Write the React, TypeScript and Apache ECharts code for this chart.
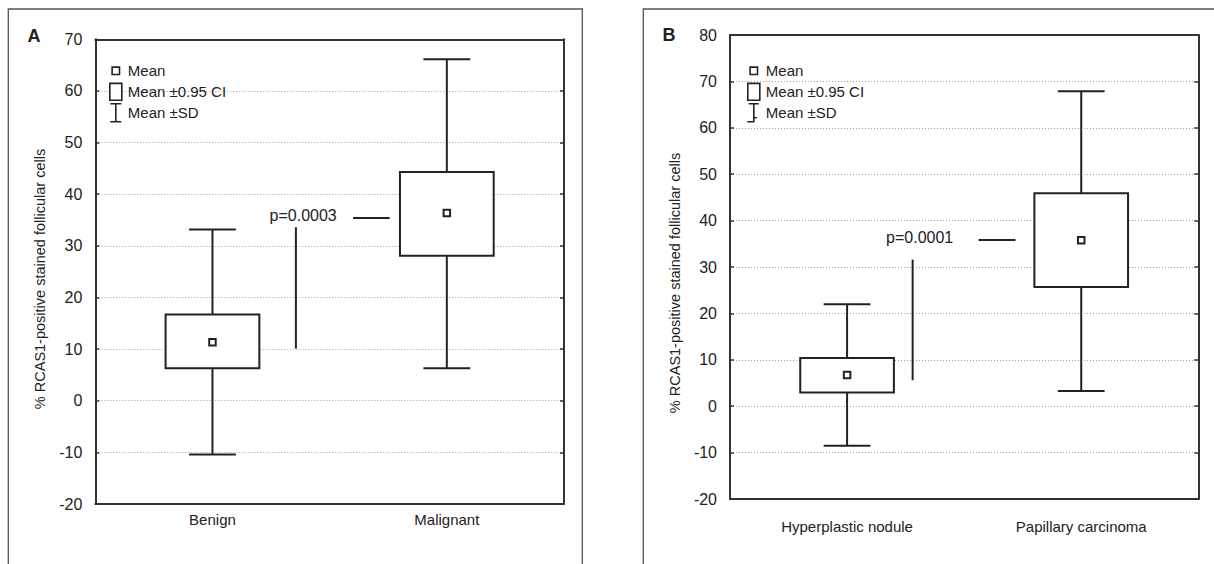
import React, { useEffect, useRef } from "react";
import * as echarts from "echarts";

// ---------- data ----------
const categoriesA = ["Benign", "Malignant"];
const meanA = [11.35, 36.35];
const ciLowA = [6.3, 28.1];
const ciHighA = [16.7, 44.3];
const sdLowA = [-10.4, 6.3];
const sdHighA = [33.15, 66.15];

const categoriesB = ["Hyperplastic nodule", "Papillary carcinoma"];
const meanB = [6.75, 35.75];
const ciLowB = [2.95, 25.7];
const ciHighB = [10.4, 45.9];
const sdLowB = [-8.5, 3.25];
const sdHighB = [21.95, 67.9];

const yRangeA = [-20, 70];
const yRangeB = [-20, 80];
const yStep = 10;

const panelLetters = ["A", "B"];
const yTitle = "% RCAS1-positive stained follicular cells";
const legendNames = ["Mean", "Mean \u00b10.95 CI", "Mean \u00b1SD"];

// p-value annotations, on a helper 0..2 axis (categories sit at 0.5 and 1.5)
const pLabelA = "p=0.0003";
const pTextA = [0.887, 35.9];
const pDashA = [[1.1, 35.4], [1.256, 35.4]];
const pStemA = [[0.856, 10.1], [0.856, 33.6]];
const pLabelB = "p=0.0001";
const pTextB = [0.81, 36.4];
const pDashB = [[1.062, 35.8], [1.219, 35.8]];
const pStemB = [[0.78, 5.6], [0.78, 31.6]];

const FONT = "'Liberation Sans', Arial, sans-serif";
const INK = "#222";

const iconMean = "path://M0,0 M14,20 M3.3,6.3 L10.7,6.3 L10.7,13.7 L3.3,13.7 Z";
const iconCI = "path://M0,0 M14,20 M1,1.6 L13,1.6 L13,18.4 L1,18.4 Z";
const iconSDA = "path://M0,0 M14,20 M1.5,1 L12.5,1 M7,1 L7,19 M1.5,19 L12.5,19";
const iconSDB = "path://M0,0 M14,20 M2,1 L12,1 M7,1 L7,15 L10,15 M7,15 L7,19 L0.5,19";

function panel(
  idx: number,
  grid: any,
  cats: string[],
  mean: number[],
  ciLow: number[],
  ciHigh: number[],
  sdLow: number[],
  sdHigh: number[],
  yRange: number[],
  labelMargin: number,
  pLabel: string,
  pText: number[],
  pDash: number[][],
  pStem: number[][]
) {
  const xb = idx * 3;
  const yl = idx * 2;
  const frameLine = { onZero: false, lineStyle: { color: "#333", width: 2 } };
  const xAxes = [
    {
      gridIndex: idx,
      type: "category",
      position: "bottom",
      data: cats,
      boundaryGap: true,
      axisLine: frameLine,
      axisTick: { inside: true, alignWithLabel: true, length: 3, lineStyle: { color: "#333", width: 1.5 } },
      axisLabel: { color: INK, fontSize: 15, fontFamily: FONT, margin: labelMargin },
      splitLine: { show: false },
    },
    {
      gridIndex: idx,
      type: "category",
      position: "top",
      data: cats,
      boundaryGap: true,
      axisLine: frameLine,
      axisTick: { inside: true, alignWithLabel: true, length: 3, lineStyle: { color: "#333", width: 1.5 } },
      axisLabel: { show: false },
      splitLine: { show: false },
    },
    { gridIndex: idx, type: "value", min: 0, max: 2, show: false, splitLine: { show: false } },
  ];
  const yAxes = [
    {
      gridIndex: idx,
      type: "value",
      position: "left",
      min: yRange[0],
      max: yRange[1],
      interval: yStep,
      axisLine: { show: true, onZero: false, lineStyle: { color: "#333", width: 2 } },
      axisTick: { show: true, inside: true, length: 4, lineStyle: { color: "#333", width: 1.5 } },
      axisLabel: { color: INK, fontSize: 16, fontFamily: FONT, margin: 13 },
      splitLine: { show: true, lineStyle: { color: "#a0a0a0", type: [1, 2], width: 1 } },
    },
    {
      gridIndex: idx,
      type: "value",
      position: "right",
      min: yRange[0],
      max: yRange[1],
      interval: yStep,
      axisLine: { show: true, onZero: false, lineStyle: { color: "#333", width: 2 } },
      axisTick: { show: true, inside: true, length: 4, lineStyle: { color: "#333", width: 1.5 } },
      axisLabel: { show: false },
      splitLine: { show: false },
    },
  ];
  const lineStyle = { stroke: INK, lineWidth: 2, fill: null };
  const series: any[] = [
    {
      name: legendNames[2],
      type: "custom",
      xAxisIndex: xb,
      yAxisIndex: yl,
      itemStyle: { color: "#fff", borderColor: INK },
      data: cats.map((_, i) => [i, sdLow[i], ciLow[i], ciHigh[i], sdHigh[i]]),
      renderItem: (_p: any, api: any) => {
        const c = api.value(0);
        const x = api.coord([c, 0])[0];
        const h = api.size([1, 0])[0] * 0.1;
        const yL = api.coord([c, api.value(1)])[1];
        const yCL = api.coord([c, api.value(2)])[1];
        const yCH = api.coord([c, api.value(3)])[1];
        const yH = api.coord([c, api.value(4)])[1];
        return {
          type: "group",
          children: [
            { type: "line", shape: { x1: x, y1: yH, x2: x, y2: yCH }, style: lineStyle },
            { type: "line", shape: { x1: x, y1: yCL, x2: x, y2: yL }, style: lineStyle },
            { type: "line", shape: { x1: x - h, y1: yH, x2: x + h, y2: yH }, style: lineStyle },
            { type: "line", shape: { x1: x - h, y1: yL, x2: x + h, y2: yL }, style: lineStyle },
          ],
        };
      },
    },
    {
      name: legendNames[1],
      type: "custom",
      xAxisIndex: xb,
      yAxisIndex: yl,
      itemStyle: { color: "#fff", borderColor: INK },
      data: cats.map((_, i) => [i, ciLow[i], ciHigh[i]]),
      renderItem: (_p: any, api: any) => {
        const c = api.value(0);
        const x = api.coord([c, 0])[0];
        const w = api.size([1, 0])[0] * 0.4;
        const yLo = api.coord([c, api.value(1)])[1];
        const yHi = api.coord([c, api.value(2)])[1];
        return {
          type: "rect",
          shape: { x: x - w / 2, y: yHi, width: w, height: yLo - yHi },
          style: { fill: "#fff", stroke: INK, lineWidth: 2 },
        };
      },
    },
    {
      name: legendNames[0],
      type: "scatter",
      xAxisIndex: xb,
      yAxisIndex: yl,
      symbol: "rect",
      symbolSize: 6.5,
      itemStyle: { color: "#fff", borderColor: INK, borderWidth: 2, opacity: 1 },
      data: cats.map((_, i) => [i, mean[i]]),
      silent: true,
    },
    {
      type: "line",
      xAxisIndex: xb + 2,
      yAxisIndex: yl,
      symbol: "none",
      silent: true,
      lineStyle: { color: INK, width: 2 },
      data: pDash,
    },
    {
      type: "line",
      xAxisIndex: xb + 2,
      yAxisIndex: yl,
      symbol: "none",
      silent: true,
      lineStyle: { color: INK, width: 2 },
      data: pStem,
    },
    {
      type: "custom",
      xAxisIndex: xb + 2,
      yAxisIndex: yl,
      silent: true,
      data: [pText],
      renderItem: (_p: any, api: any) => {
        const pt = api.coord([api.value(0), api.value(1)]);
        return {
          type: "text",
          x: pt[0],
          y: pt[1],
          style: {
            text: pLabel,
            fill: INK,
            fontSize: 16,
            fontFamily: FONT,
            align: "center",
            verticalAlign: "middle",
          },
        };
      },
    },
  ];
  return { grid, xAxes, yAxes, series };
}

function legendFor(left: number, sdIcon: string) {
  const icons = [iconMean, iconCI, sdIcon];
  return {
    orient: "vertical",
    left,
    top: 60,
    padding: 0,
    itemWidth: 14,
    itemHeight: 20,
    itemGap: -0.6,
    selectedMode: false,
    textStyle: { color: INK, fontSize: 15, fontFamily: FONT, lineHeight: 20, padding: [0, 0, 0, 0] },
    data: legendNames.map((n, i) => ({
      name: n,
      icon: icons[i],
      itemStyle: { color: "#fff", borderColor: INK, borderWidth: 1.6 },
    })),
  };
}

export default function App() {
  const ref = useRef<HTMLDivElement>(null);
  useEffect(() => {
    if (!ref.current) return;
    const chart = echarts.init(ref.current, undefined, { renderer: "svg" });
    const pA = panel(
      0,
      { left: 95.3, top: 39.3, width: 468.7, height: 464.7 },
      categoriesA, meanA, ciLowA, ciHighA, sdLowA, sdHighA, yRangeA, 8,
      pLabelA, pTextA, pDashA, pStemA
    );
    const pB = panel(
      1,
      { left: 730, top: 35, width: 468.3, height: 464 },
      categoriesB, meanB, ciLowB, ciHighB, sdLowB, sdHighB, yRangeB, 20,
      pLabelB, pTextB, pDashB, pStemB
    );
    chart.setOption({
      animation: false,
      backgroundColor: "#fff",
      textStyle: { fontFamily: FONT },
      grid: [pA.grid, pB.grid],
      xAxis: [...pA.xAxes, ...pB.xAxes],
      yAxis: [...pA.yAxes, ...pB.yAxes],
      legend: [legendFor(108, iconSDA), legendFor(746, iconSDB)],
      series: [...pA.series, ...pB.series],
      graphic: [
        { type: "rect", silent: true, z: -1, shape: { x: 8.3, y: 9, width: 574, height: 600 }, style: { fill: null, stroke: "#555", lineWidth: 1.3 } },
        { type: "rect", silent: true, z: -1, shape: { x: 643.3, y: 9, width: 620, height: 600 }, style: { fill: null, stroke: "#555", lineWidth: 1.3 } },
        { type: "text", x: 34, y: 36, style: { text: panelLetters[0], fill: INK, fontSize: 18, fontWeight: "bold", fontFamily: FONT, align: "center", verticalAlign: "middle" } },
        { type: "text", x: 669, y: 35, style: { text: panelLetters[1], fill: INK, fontSize: 18, fontWeight: "bold", fontFamily: FONT, align: "center", verticalAlign: "middle" } },
        { type: "text", x: 40, y: 279, rotation: Math.PI / 2, style: { text: yTitle, fill: INK, fontSize: 14.5, fontFamily: FONT, align: "center", verticalAlign: "middle" } },
        { type: "text", x: 675, y: 283, rotation: Math.PI / 2, style: { text: yTitle, fill: INK, fontSize: 14.5, fontFamily: FONT, align: "center", verticalAlign: "middle" } },
      ],
    });
    return () => chart.dispose();
  }, []);
  return (
    <div
      ref={ref}
      style={{ position: "fixed", left: 0, top: 0, width: 1214, height: 564, background: "#fff" }}
    />
  );
}
